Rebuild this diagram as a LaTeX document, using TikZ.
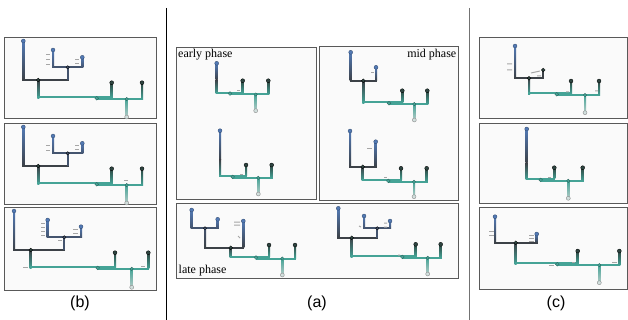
\documentclass[tikz,border=0pt]{standalone}
\usepackage{fontspec}
\setmainfont{Liberation Serif}
\newfontfamily\capfont{Liberation Sans}
\definecolor{treeblue}{HTML}{5279B4}
\definecolor{treeslate}{HTML}{44546E}
\definecolor{treedark}{HTML}{3C4147}
\definecolor{treeteal}{HTML}{45A396}
\definecolor{treelight}{HTML}{B2CAC6}
\definecolor{leafdark}{HTML}{2E4541}
\tikzset{
  panel/.style={draw=black!65,fill=black!2,line width=1pt},
  edge/.style={line width=2pt},
  rootdot/.style={fill=treeblue,draw=treeblue!60!black,line width=0.3pt},
  slatedot/.style={fill=treeslate,draw=black,line width=0.3pt},
  leafdot/.style={fill=leafdark,draw=black,line width=0.3pt},
  tealdot/.style={fill=treeteal,draw=treeteal!60!black,line width=0.3pt},
  enddot/.style={fill=treelight!60,draw=black!45,line width=0.4pt},
  glyph/.style={draw=black!35,line width=1pt},
  phase/.style={font=\fontsize{12}{13}\selectfont,inner sep=0pt},
  caption/.style={font=\capfont\fontsize{16}{18}\selectfont}
}
% teal subtree: start x, start y, teal y, junction x, leaf x, leaf x, leaf y, end x, end y
\newcommand{\lowtree}[9]{%
  \shade[top color=treedark,bottom color=treeteal] (#1-1,#2) rectangle (#1+1,#3+1);
  \draw[edge,treeteal] (#1-1,#3) -- (#5+1,#3);
  \draw[edge,treeteal] (#4,#3+1.8) -- (#6+1,#3+1.8);
  \shade[top color=leafdark,bottom color=treeteal] (#5-1,#7) rectangle (#5+1,#3);
  \shade[top color=leafdark,bottom color=treeteal] (#6-1,#7) rectangle (#6+1,#3+1.8);
  \shade[top color=treeteal,bottom color=treelight] (#8-1,#3+1.8) rectangle (#8+1,#9);
  \filldraw[tealdot] (#4,#3+0.9) circle (1.9pt);
  \filldraw[tealdot] (#8,#3+1.8) circle (1.7pt);
  \filldraw[leafdot] (#5,#7) circle (2pt);
  \filldraw[leafdot] (#6,#7) circle (2pt);
  \filldraw[enddot] (#8,#9) circle (2pt);
}

\begin{document}
\begin{tikzpicture}[x=1pt,y=-1pt]
\useasboundingbox (0,0) rectangle (628,320);
% panels
\draw[panel] (4,37.7) rectangle (156,119);
\draw[panel] (4,123.3) rectangle (156,205);
\draw[panel] (4,208) rectangle (156,290);
\draw[panel] (176.7,47.7) rectangle (316,200);
\draw[panel] (319.3,46.7) rectangle (458.3,200.7);
\draw[panel] (176.7,204) rectangle (458.3,278);
\draw[panel] (479,37.7) rectangle (627,119);
\draw[panel] (479,123.3) rectangle (627,204);
\draw[panel] (479,208) rectangle (627,289);
\draw[black,line width=0.8pt] (166.5,8) -- (166.5,320);
\draw[black!55,line width=0.8pt] (469.3,8) -- (469.3,320);

% (b) top
\shade[top color=treeblue,bottom color=treedark] (22.3,41) rectangle (24.3,80);
\draw[edge,treedark] (22.3,80) -- (68.7,80);
\draw[edge,treeslate] (67.7,80) -- (67.7,67.3);
\draw[edge,treeslate] (52,67.3) -- (83.3,67.3);
\shade[top color=treeblue,bottom color=treeslate] (52,50) rectangle (54,67.3);
\shade[top color=treeblue,bottom color=treeslate] (81.3,57.3) rectangle (83.3,67.3);
\lowtree{38.3}{80}{97.3}{96.7}{111.7}{142}{82.7}{126.7}{117}
\filldraw[leafdot] (38.3,80) circle (1.9pt);
\filldraw[slatedot] (67.7,67.3) circle (1.7pt);
\filldraw[rootdot] (23.3,41) circle (2pt) (53,50) circle (2pt) (82.3,57.3) circle (2pt);
\draw[glyph] (46,55) -- (50,55) (46,60) -- (50,60) (46,65) -- (50,65) (75,60) -- (79,60) (75,64) -- (79,64);

% (b) middle
\shade[top color=treeblue,bottom color=treedark] (22.3,127) rectangle (24.3,166);
\draw[edge,treedark] (22.3,166) -- (68.7,166);
\draw[edge,treeslate] (67.7,166) -- (67.7,153.3);
\draw[edge,treeslate] (52,153.3) -- (83.3,153.3);
\shade[top color=treeblue,bottom color=treeslate] (52,136) rectangle (54,153.3);
\shade[top color=treeblue,bottom color=treeslate] (81.3,143.3) rectangle (83.3,153.3);
\lowtree{38.3}{166}{183.3}{96.7}{111.7}{142}{168.7}{126.7}{203}
\filldraw[leafdot] (38.3,166) circle (1.9pt);
\filldraw[slatedot] (67.7,153.3) circle (1.7pt);
\filldraw[rootdot] (23.3,127) circle (2pt) (53,136) circle (2pt) (82.3,143.3) circle (2pt);
\draw[glyph] (46,146) -- (50,146) (46,151) -- (50,151) (75,146) -- (79,146) (75,150) -- (79,150) (124,181) -- (128,181);

% (b) bottom
\shade[top color=treeblue,bottom color=treedark] (13,211) rectangle (15,250);
\draw[edge,treedark] (13,250) -- (65.3,250);
\draw[edge,treeslate] (64.3,250) -- (64.3,237.3);
\draw[edge,treeslate] (46.7,237.3) -- (82,237.3);
\shade[top color=treeblue,bottom color=treeslate] (46.7,220) rectangle (48.7,237.3);
\shade[top color=treeblue,bottom color=treeslate] (80,226.7) rectangle (82,237.3);
\lowtree{30.7}{250}{267}{97.7}{115}{148.3}{252.7}{131.7}{287.3}
\filldraw[leafdot] (30.7,250) circle (1.9pt);
\filldraw[slatedot] (64.3,237.3) circle (1.7pt);
\filldraw[rootdot] (14,211) circle (2pt) (47.7,220) circle (2pt) (81,226.7) circle (2pt);
\draw[glyph] (41,223) -- (45,223) (41,227) -- (45,227) (41,231) -- (45,231) (41,235) -- (45,235) (73,229) -- (78,229) (73,233) -- (78,233) (58,240) -- (62,240) (23,267) -- (28,267) (141,266) -- (145,266);

% early phase
\shade[top color=treeblue,bottom color=treedark] (215.7,63.3) rectangle (217.7,80);
\lowtree{216.7}{80}{92.7}{230}{242.7}{268.3}{80.7}{255.7}{110.7}
\filldraw[rootdot] (216.7,63.3) circle (2pt);
\draw[glyph] (237,91) -- (240,91);
\shade[top color=treeblue,bottom color=treedark] (219,130.7) rectangle (221,160);
\lowtree{220}{160}{176}{232.7}{246}{271.7}{165}{258.3}{194}
\filldraw[rootdot] (220,130.7) circle (2pt);
\draw[glyph] (240,174.5) -- (243,174.5);

% mid phase
\shade[top color=treeblue,bottom color=treedark] (349.7,52.3) rectangle (351.7,80.7);
\draw[edge,treedark] (349.7,80.7) -- (377,80.7);
\shade[top color=treeblue,bottom color=treedark] (375,67.3) rectangle (377,80.7);
\lowtree{363.3}{80.7}{102.3}{389}{402.3}{427.3}{90.7}{414.3}{120}
\filldraw[leafdot] (363.3,80.7) circle (1.9pt);
\filldraw[rootdot] (350.7,52.3) circle (2pt) (376,67.3) circle (2pt);
\draw[glyph] (371,73) -- (374,73);
\shade[top color=treeblue,bottom color=treedark] (349,131) rectangle (351,166.7);
\draw[edge,treedark] (349,166.7) -- (376.7,166.7);
\shade[top color=treeblue,bottom color=treedark] (374.7,141.7) rectangle (376.7,166.7);
\lowtree{362.7}{166.7}{180}{388.3}{401}{426.7}{168.3}{414}{196.7}
\filldraw[leafdot] (362.7,166.7) circle (1.9pt);
\filldraw[rootdot] (350,131) circle (2pt) (375.7,141.7) circle (2pt);
\draw[glyph] (367,149) -- (372,149) (384,178) -- (387,178);

% late phase
\shade[top color=treeblue,bottom color=treeslate] (190.7,210) rectangle (192.7,228.3);
\draw[edge,treeslate] (190.7,228.3) -- (218.7,228.3);
\shade[top color=treeblue,bottom color=treeslate] (216.7,219.3) rectangle (218.7,228.3);
\shade[top color=treeslate,bottom color=treedark] (204,228.3) rectangle (206,247.7);
\draw[edge,treedark] (204,247.7) -- (244.3,247.7);
\shade[top color=treeblue,bottom color=treedark] (242.3,221) rectangle (244.3,247.7);
\lowtree{230.7}{247.7}{256.7}{256}{269}{295}{245}{282.3}{275}
\filldraw[slatedot] (205,228.3) circle (1.7pt);
\filldraw[leafdot] (230.7,247.7) circle (1.9pt);
\filldraw[rootdot] (191.7,210) circle (2pt) (217.7,219.3) circle (2pt) (243.3,221) circle (2pt);
\draw[glyph] (234,222) -- (240,222) (234,225) -- (240,225) (238,236) -- (240,238);
\shade[top color=treeblue,bottom color=treedark] (337.3,208.3) rectangle (339.3,237.7);
\draw[edge,treedark] (337.3,237.7) -- (378.3,237.7);
\draw[edge,treeslate] (377.3,237.7) -- (377.3,228.3);
\draw[edge,treeslate] (363,228.3) -- (391,228.3);
\shade[top color=treeblue,bottom color=treeslate] (363,216) rectangle (365,228.3);
\shade[top color=treeblue,bottom color=treeslate] (389,221) rectangle (391,228.3);
\lowtree{351.7}{237.7}{256}{402.3}{415.7}{440.7}{244.3}{427.7}{274}
\filldraw[leafdot] (351.7,237.7) circle (1.9pt);
\filldraw[slatedot] (377.3,228.3) circle (1.7pt);
\filldraw[rootdot] (338.3,208.3) circle (2pt) (364,216) circle (2pt) (390,221) circle (2pt);
\draw[glyph] (384,223) -- (387,223) (384,227) -- (387,227) (359,226) -- (361,227) (398,255) -- (400,255);

% (c) top
\shade[top color=treeblue,bottom color=treedark] (514,46) rectangle (516,78.3);
\draw[edge,treedark] (514,78.3) -- (544.3,78.3);
\draw[edge,treedark] (543.3,78.3) -- (543.3,70);
\lowtree{529}{78.3}{93.3}{556.7}{571}{599}{81}{585}{112.7}
\filldraw[leafdot] (529,78.3) circle (1.9pt) (543.3,70) circle (1.9pt);
\filldraw[rootdot] (515,46) circle (2pt);
\draw[glyph] (507,64) -- (512,64) (507,70) -- (512,70) (531,73) -- (540,71) (537,76) -- (541,76) (566,92) -- (569,92) (595,91) -- (598,91);

% (c) middle
\shade[top color=treeblue,bottom color=treedark] (525.7,129) rectangle (527.7,163);
\lowtree{526.7}{163}{179}{540.7}{554.3}{582.7}{167.7}{568.3}{198.3}
\filldraw[rootdot] (526.7,129) circle (2pt);
\draw[glyph] (548,177.5) -- (551,177.5);

% (c) bottom
\shade[top color=treeblue,bottom color=treedark] (494,216.7) rectangle (496,242.7);
\draw[edge,treedark] (494,242.7) -- (537.7,242.7);
\shade[top color=treeblue,bottom color=treedark] (535.7,234) rectangle (537.7,242.7);
\lowtree{515.7}{242.7}{263.3}{557.3}{577.7}{619.3}{251}{599.3}{282.7}
\filldraw[leafdot] (515.7,242.7) circle (1.9pt);
\filldraw[rootdot] (495,216.7) circle (2pt) (536.7,234) circle (2pt);
\draw[glyph] (489,231) -- (494,231) (489,235) -- (494,235) (529,235) -- (534,235) (529,238) -- (534,238) (529,241) -- (534,241) (549,265) -- (554,265) (572,262) -- (575,262) (612,262) -- (617,262);

% labels
\node[phase,anchor=north west] (early) at (178,49) {early phase};
\node[phase,anchor=north east] (mid) at (456.5,48.5) {mid phase};
\node[phase,anchor=south west] (late) at (178.5,276) {late phase};
\node[caption] (capb) at (80,303) {(b)};
\node[caption] (capa) at (317,303) {(a)};
\node[caption] (capc) at (556,303) {(c)};
\end{tikzpicture}
\end{document}
